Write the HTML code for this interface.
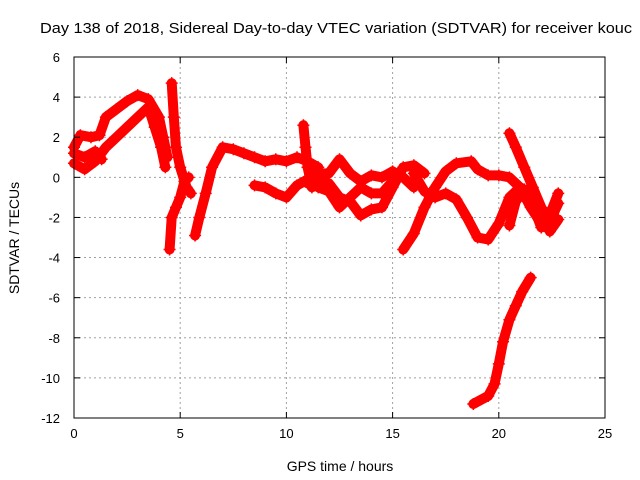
<!DOCTYPE html>
<html><head><meta charset="utf-8"><style>
html,body{margin:0;padding:0;background:#fff;}
svg{display:block;font-family:"Liberation Sans",sans-serif;}
</style></head><body>
<svg id="chart" width="640" height="480">
<text x="40" y="33" font-size="15" textLength="592" lengthAdjust="spacingAndGlyphs">Day 138 of 2018, Sidereal Day-to-day VTEC variation (SDTVAR) for receiver kouc</text>
<text x="340" y="471" font-size="14" text-anchor="middle">GPS time / hours</text>
<text transform="translate(19,238) rotate(-90)" font-size="14" text-anchor="middle">SDTVAR / TECUs</text>
<g id="grid"></g><g id="marks"></g><g id="axes"></g>
</svg>
<script>
const xTicks=[0,5,10,15,20,25];
const yTicks=[-12,-10,-8,-6,-4,-2,0,2,4,6];
const s1=[[0,1.5],[0.3,2.1],[0.8,2.0],[1.2,2.1],[1.5,3.0],[2,3.4],[2.5,3.8],[3,4.1],[3.5,3.9],[4,3.0],[4.2,2.0],[4.4,1.0]];
const s2=[[0,0.7],[0.5,0.4],[1,0.8],[1.5,1.5],[2,2.0],[2.5,2.5],[3,3.0],[3.5,3.5],[3.8,2.5],[4.1,1.5],[4.3,0.5]];
const s3=[[0,1.2],[0.5,1.0],[1,1.3],[1.3,0.9]];
const s4=[[4.6,4.7],[4.7,3.0],[4.8,1.5],[5,0.5],[5.3,-0.5],[5.5,-0.8]];
const s5=[[4.5,-3.6],[4.6,-2],[4.8,-1.5],[5,-1.0],[5.2,-0.2],[5.4,0]];
const s6=[[5.7,-2.9],[5.9,-2],[6.2,-0.8],[6.5,0.5],[7,1.5],[7.5,1.4],[8,1.2],[8.5,1.0],[9,0.8],[9.5,0.9],[10,0.8],[10.5,1.0],[11,0.8],[11.5,0.5]];
const s7=[[8.5,-0.4],[9,-0.5],[9.5,-0.8],[10,-1.0],[10.5,-0.4],[11,-0.1],[11.5,-0.4]];
const s8=[[10.8,2.6],[10.9,1.5],[11,0.5],[11.2,-0.5],[11.5,0]];
const s9=[[11,-0.3],[11.5,-0.2],[12,-0.3],[12.5,-1.0],[13,-1.2],[13.5,-1.9],[14,-1.6],[14.5,-1.5],[15,-0.5],[15.5,0.5],[16,0.6],[16.5,0.2]];
const s10=[[11,0.5],[11.5,0.2],[12,0.2],[12.5,0.9],[13,0.2],[13.5,-0.2],[14,0.1],[14.5,0.0],[15,0.3],[15.5,0.0],[16,-0.5]];
const s11=[[11.5,-0.5],[12,-0.7],[12.5,-1.5],[13,-1.0],[13.5,-0.5],[14,-0.8],[14.5,-0.8],[15,-0.2]];
const s12=[[15.5,-3.6],[16,-2.8],[16.5,-1.5],[17,-0.5],[17.5,0.3],[18,0.7],[18.7,0.8],[19,0.4],[19.5,0.1],[20,0.1],[20.5,0.0],[21,-0.5],[21.5,-1.5],[22,-2.3],[22.5,-1.6],[22.8,-0.8]];
const s13=[[16,0.2],[16.5,-0.7],[17,-1.0],[17.5,-0.8],[18,-1.1],[18.5,-2.0],[19,-3.0],[19.5,-3.1],[20,-2.3],[20.5,-1.0],[21,-0.5],[21.5,-0.8]];
const s14=[[20.5,2.2],[20.8,1.5],[21.2,0.5],[21.6,-0.5],[22,-1.5],[22.4,-2.7],[22.8,-2.1]];
const s15=[[20.5,-2.4],[20.8,-1.2],[21.2,-0.6],[21.6,-1.4],[22,-2.5],[22.4,-2.2],[22.8,-1.3]];
const s16=[[18.8,-11.3],[19.5,-10.9],[19.8,-10.3],[20,-9.3],[20.2,-8.2],[20.5,-7.1],[20.8,-6.4],[21.1,-5.7],[21.5,-5.0]];
const series=[s1,s2,s3,s4,s5,s6,s7,s8,s9,s10,s11,s12,s13,s14,s15,s16];
const L=74,R=605,T=57,B=418,NS="http://www.w3.org/2000/svg";
const X=t=>L+(t-0)/(25-0)*(R-L);
const Y=v=>T+(6-v)/(6-(-12))*(B-T);
function mk(tag,attrs,parent){const e=document.createElementNS(NS,tag);for(const k in attrs)e.setAttribute(k,attrs[k]);parent.appendChild(e);return e;}
const grid=document.getElementById('grid'),axes=document.getElementById('axes'),marks=document.getElementById('marks');
xTicks.forEach(t=>{
 if(t>0&&t<25){const g=mk('line',{x1:X(t),x2:X(t),y1:T,y2:B,stroke:'#a0a0a0','stroke-dasharray':'2,3'},grid);
 
 }
 mk('line',{x1:X(t),x2:X(t),y1:B,y2:B-6,stroke:'#000'},axes);
 mk('line',{x1:X(t),x2:X(t),y1:T,y2:T+6,stroke:'#000'},axes);
 const tx=mk('text',{x:X(t),y:B+20,'font-size':13,'text-anchor':'middle'},axes);tx.textContent=t;
 
 
});
yTicks.forEach(v=>{
 if(v>-12&&v<6){const g=mk('line',{x1:L,x2:R,y1:Y(v),y2:Y(v),stroke:'#a0a0a0','stroke-dasharray':'2,3'},grid);
 
 }
 mk('line',{x1:L,x2:L+6,y1:Y(v),y2:Y(v),stroke:'#000'},axes);
 mk('line',{x1:R,x2:R-6,y1:Y(v),y2:Y(v),stroke:'#000'},axes);
 const tx=mk('text',{x:L-14,y:Y(v)+5,'font-size':13,'text-anchor':'end'},axes);tx.textContent=v;
 
 
});
const fr=mk('rect',{x:L,y:T,width:R-L,height:B-T,fill:'none',stroke:'#000'},axes);


series.forEach((s,i)=>{
 const pl=mk('polyline',{points:s.map(p=>X(p[0])+','+Y(p[1])).join(' '),fill:'none',stroke:'#f00','stroke-width':10,'stroke-linejoin':'round','stroke-linecap':'round'},marks);
 
 
 s.forEach(p=>{const x=X(p[0]),y=Y(p[1]);
  const m=mk('path',{d:`M${x-6},${y}H${x+6}M${x},${y-6}V${y+6}`,stroke:'#f00','stroke-width':1.5},marks);
  
  
 });
});
</script>
</body></html>
